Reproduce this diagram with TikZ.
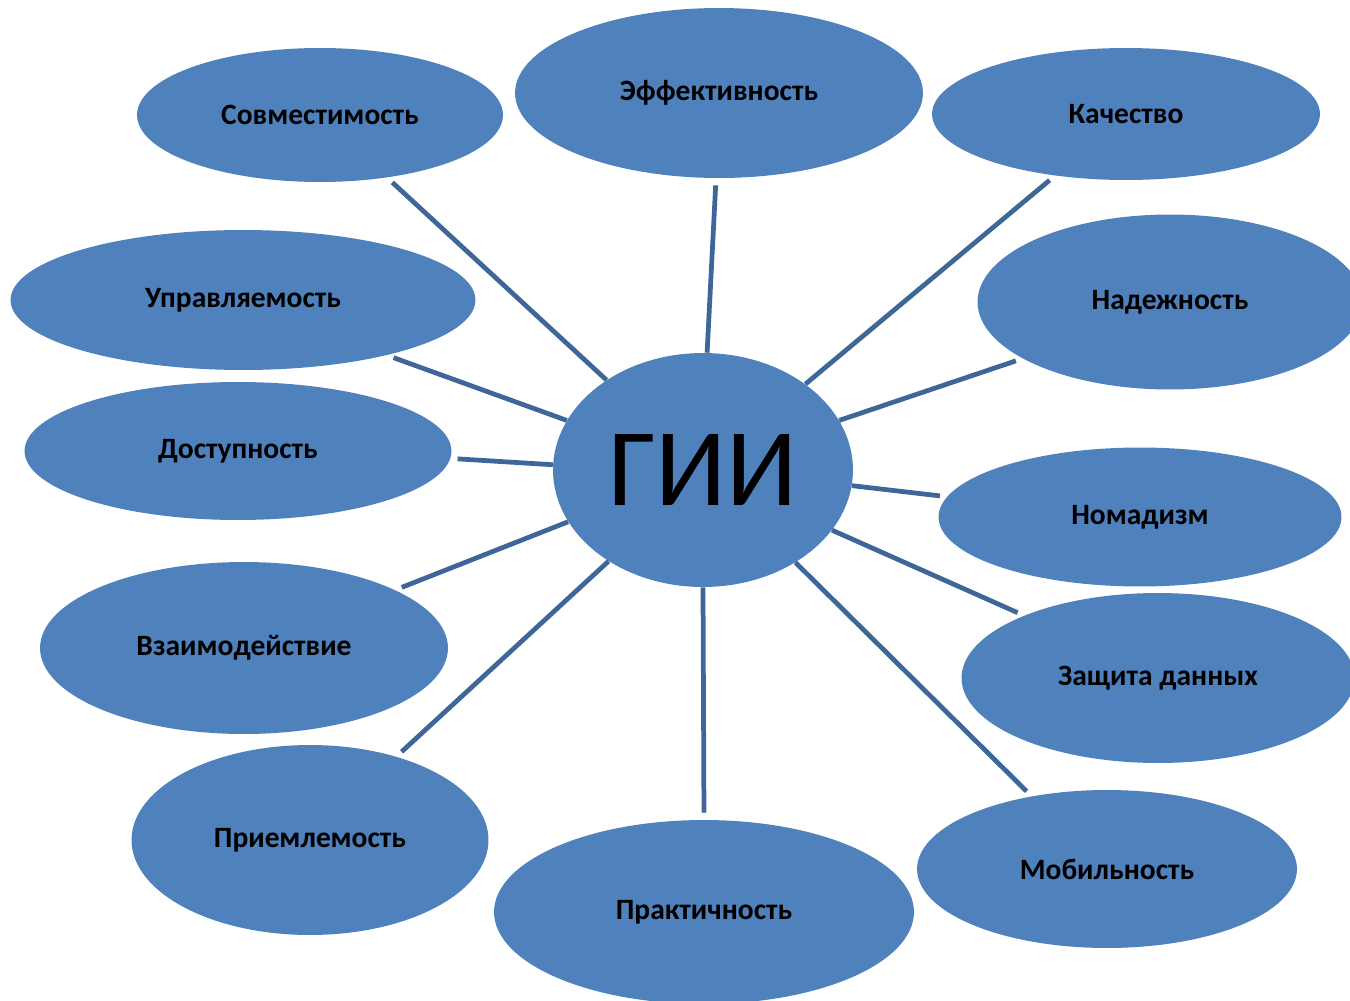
\documentclass[tikz,border=0pt]{standalone}
\usepackage{fontspec}
\setmainfont{Carlito}
\usetikzlibrary{shapes.geometric}

\definecolor{ellblue}{HTML}{4F81BD}
\definecolor{linkblue}{HTML}{3E6698}

\begin{document}
\begin{tikzpicture}[x=0.02cm, y=-0.02cm,
	blob/.style={ellipse, fill=ellblue, inner sep=0pt,
		font=\bfseries\fontsize{16.8}{20}\selectfont},
	link/.style={linkblue, line width=2.7pt}]
	% fix the page size
	\useasboundingbox (0,0) rectangle (1350,1001);
	\clip (0,0) rectangle (1350,1001);

	% --- center
	\node[ellipse, fill=ellblue, inner sep=0pt, minimum width=6cm, minimum height=4.68cm,
		font=\fontsize{63}{70}\selectfont] (gii) at (703,470) {ГИИ};

	% --- outer ellipses
	\node[blob, minimum width=7.32cm, minimum height=2.68cm] (sovm) at (320,115) {Совместимость};
	\node[blob, minimum width=8.16cm, minimum height=3.40cm] (effekt) at (719,93) {Эффективность};
	\node[blob, minimum width=7.76cm, minimum height=2.64cm] (kach) at (1126,114) {Качество};
	\node[blob, minimum width=9.30cm, minimum height=2.80cm] (uprav) at (243,300) {Управляемость};
	\node[blob, minimum width=7.70cm, minimum height=3.50cm] (nadezh) at (1170,302) {Надежность};
	\node[blob, minimum width=8.54cm, minimum height=2.76cm] (dostup) at (238,451) {Доступность};
	\node[blob, minimum width=8.06cm, minimum height=2.78cm] (nomad) at (1140,517) {Номадизм};
	\node[blob, minimum width=8.16cm, minimum height=3.44cm] (vzaim) at (244,648) {Взаимодействие};
	\node[blob, minimum width=7.86cm, minimum height=3.40cm] (zaschita) at (1158,678) {Защита данных};
	\node[blob, minimum width=7.14cm, minimum height=3.80cm] (priem) at (310,840) {Приемлемость};
	\node[blob, minimum width=8.40cm, minimum height=3.68cm] (prakt) at (704,912) {Практичность};
	\node[blob, minimum width=7.60cm, minimum height=3.16cm] (mobil) at (1107,869) {Мобильность};

	% --- connectors from center to each ellipse
	\foreach \name/\from/\to in {
		sovm/137/-43,
		effekt/88/-92,
		kach/40/-139,
		nadezh/20/-159,
		nomad/-6/174,
		zaschita/-25/155,
		mobil/-45/136,
		prakt/-90/90,
		priem/-136/44,
		vzaim/-159/21,
		dostup/178/-2,
		uprav/160/-21}
	\draw[link, shorten >=4pt] (gii.\from) -- (\name.\to);
\end{tikzpicture}
\end{document}
